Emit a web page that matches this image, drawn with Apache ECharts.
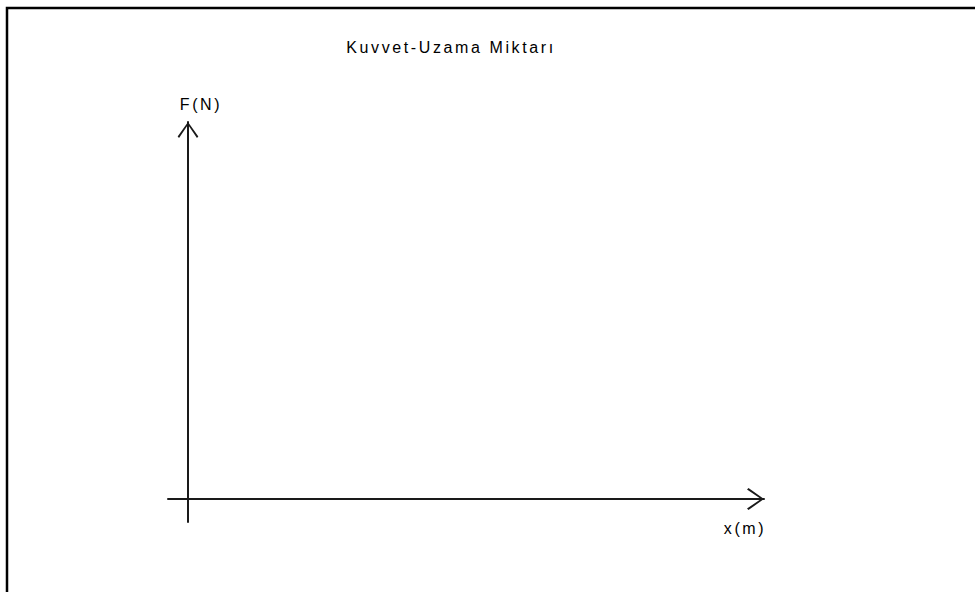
<!DOCTYPE html>
<html>
<head>
<meta charset="utf-8">
<script src="https://cdn.jsdelivr.net/npm/echarts@6/dist/echarts.min.js"></script>
<style>
  html, body { margin: 0; padding: 0; background: #fff; }
  #chart { width: 975px; height: 592px; }
  #chart text { letter-spacing: 2.6px; }
</style>
</head>
<body>
<div id="chart"></div>
<script>
// The reference chart is an empty force / extension diagram: no data marks.
const titleText = 'Kuvvet-Uzama Miktarı';
const xAxisName = 'x(m)';
const yAxisName = 'F(N)';
const extensionValues = [];   // x(m) — none plotted in the reference
const forceValues = [];       // F(N) — none plotted in the reference
const xRange = [-20, 576];
const yRange = [-23, 377];

const chevron = 'path://M0,15.5 L11,0 L22,15.5 L20.5,17 L11,3 L1.5,17 Z';
const axisColor = '#1a1a1a';
const fontFamily = 'Liberation Sans, Arial, sans-serif';

const chart = echarts.init(document.getElementById('chart'), null, { renderer: 'svg' });
chart.setOption({
  backgroundColor: '#ffffff',
  animation: false,
  grid: { left: 168, right: 211, top: 122, bottom: 70, containLabel: false },
  xAxis: {
    type: 'value',
    min: xRange[0], max: xRange[1],
    name: xAxisName,
    nameLocation: 'end',
    nameGap: -19,
    nameTextStyle: { color: '#000', fontSize: 16, fontFamily: fontFamily, align: 'center', verticalAlign: 'top', lineHeight: 58 },
    axisLine: { show: true, onZero: true, symbol: ['none', chevron], symbolSize: [22, 17], symbolOffset: [0, -8.5], lineStyle: { color: axisColor, width: 2 } },
    axisTick: { show: false }, axisLabel: { show: false }, splitLine: { show: false }
  },
  yAxis: {
    type: 'value',
    min: yRange[0], max: yRange[1],
    name: yAxisName,
    nameLocation: 'end',
    nameGap: 10,
    nameTextStyle: { color: '#000', fontSize: 16, fontFamily: fontFamily, align: 'center', padding: [0, 0, 0, 26] },
    axisLine: { show: true, onZero: true, symbol: ['none', chevron], symbolSize: [24, 16], symbolOffset: [0, -8], lineStyle: { color: axisColor, width: 2 } },
    axisTick: { show: false }, axisLabel: { show: false }, splitLine: { show: false }
  },
  series: [{
    type: 'line',
    data: extensionValues.map((x, i) => [x, forceValues[i]]),
    symbol: 'none'
  }],
  graphic: [
    { type: 'polyline', shape: { points: [[7, 592], [7, 8], [975, 8]] }, style: { stroke: '#000', lineWidth: 2.5, fill: null } },
    { type: 'text', x: 451, y: 47, style: { text: titleText, fontSize: 16, fontFamily: fontFamily, fill: '#000', textAlign: 'center', textVerticalAlign: 'middle' } }
  ]
});
</script>
</body>
</html>
